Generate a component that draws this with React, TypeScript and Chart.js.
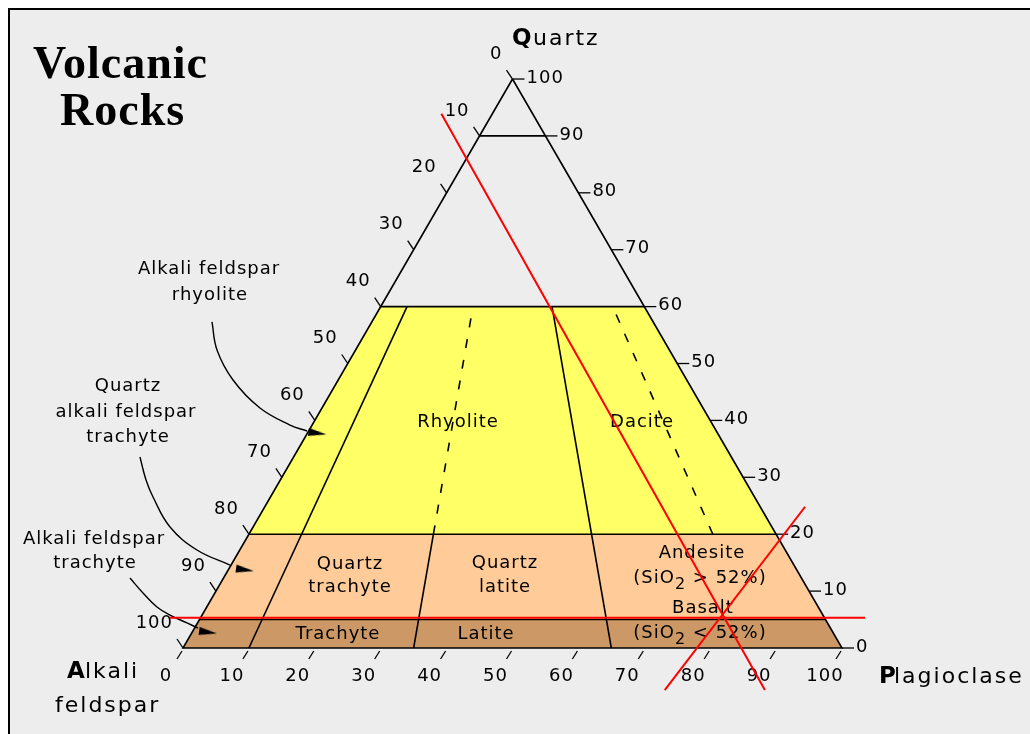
import React, { useEffect, useRef } from 'react';
import { Chart, registerables } from 'chart.js';

Chart.register(...registerables);

// ---------- data (ternary QAP values, in %) ----------
// Q bands of the field table (lower / upper Quartz %)
const bandLowQ = [20, 5, 0];
const bandHighQ = [60, 20, 5];
const bandColors = ['#FFFF66', '#FFCC99', '#CC9966'];
// horizontal boundaries (Quartz %)
const levelQ = [90, 60, 20, 5];
// radial boundaries: P/(A+P) %, from Q=0 up to given Q
const solidRatios = [10, 35, 65];
const solidTopQ = [60, 20, 60];
const dashedRatios = [35, 88];
const dashedLowQ = [20, 20];
const dashedHighQ = [60, 60];
// axis tick values
const tickValues = [0, 10, 20, 30, 40, 50, 60, 70, 80, 90, 100];
// red construction lines (cartesian diagram units)
const red1X = [39.2, 88.3];
const red1Y = [81.3, -6.4];
const red2X = [73.1, 94.4];
const red2Y = [-6.4, 21.5];
const red3X = [-2.0, 103.5];
const red3Y = [4.6, 4.6];
// annotation arrows (cartesian diagram units)
const arrow1X = [4.4, 5.16, 7.59, 11.68, 16.24, 18.82];
const arrow1Y = [49.62, 45.36, 40.79, 36.53, 33.94, 33.03];
const arrow2X = [-6.53, -5.61, -4.55, -1.97, 2.12, 7.13];
const arrow2Y = [29.07, 25.57, 22.98, 18.42, 14.92, 12.63];
const arrow3X = [-8.04, -6.07, -3.95, -1.97, 0.61, 2.28];
const arrow3Y = [10.65, 8.37, 6.24, 5.02, 3.81, 3.04];
const headX = [20.4, 9.4, 3.8];
const headY = [32.7, 11.9, 2.4];

// ---------- helpers ----------
const SQ = Math.sqrt(3) / 2;
// q = Quartz %, r = P/(A+P) %
const tern = (q: number, r: number) => ({ x: ((100 - q) * r) / 100 + q / 2, y: q * SQ });
const zip = (xs: number[], ys: number[]) => xs.map((x, i) => ({ x, y: ys[i] }));

const FONT = '"DejaVu Sans", sans-serif';

function makeArrowHead() {
  const c = document.createElement('canvas');
  c.width = 20;
  c.height = 10;
  const g = c.getContext('2d')!;
  g.fillStyle = '#000';
  g.beginPath();
  g.moveTo(1, 1);
  g.lineTo(19, 5);
  g.lineTo(1, 9);
  g.closePath();
  g.fill();
  return c;
}

function buildDatasets() {
  const ds: any[] = [];
  bandLowQ.forEach((lo, i) => {
    const hi = bandHighQ[i];
    ds.push({
      data: [tern(hi, 0), tern(hi, 100), tern(lo, 100), tern(lo, 0), tern(hi, 0)],
      fill: 'shape',
      backgroundColor: bandColors[i],
      borderWidth: 0,
      borderColor: 'rgba(0,0,0,0)',
      order: 10,
    });
  });
  levelQ.forEach((q) => {
    ds.push({ data: [tern(q, 0), tern(q, 100)], borderColor: '#000', borderWidth: 1.6, order: 6 });
  });
  solidRatios.forEach((r, i) => {
    ds.push({ data: [tern(0, r), tern(solidTopQ[i], r)], borderColor: '#000', borderWidth: 1.6, order: 6 });
  });
  dashedRatios.forEach((r, i) => {
    ds.push({
      data: [tern(dashedLowQ[i], r), tern(dashedHighQ[i], r)],
      borderColor: '#000',
      borderWidth: 1.6,
      borderDash: [9, 12],
      order: 6,
    });
  });
  ds.push({
    id: 'outline',
    data: [tern(100, 0), tern(0, 0), tern(0, 100), tern(100, 0)],
    borderColor: '#000',
    borderWidth: 1.6,
    order: 5,
  });
  [zip(arrow1X, arrow1Y), zip(arrow2X, arrow2Y), zip(arrow3X, arrow3Y)].forEach((d) => {
    ds.push({ data: d, borderColor: '#000', borderWidth: 1.4, tension: 0.4, order: 3 });
  });
  ds.push({
    data: zip(headX, headY),
    showLine: false,
    pointStyle: makeArrowHead(),
    pointRadius: 8,
    pointRotation: 8,
    order: 3,
  });
  [zip(red1X, red1Y), zip(red2X, red2Y), zip(red3X, red3Y)].forEach((d) => {
    ds.push({ data: d, borderColor: '#FF0000', borderWidth: 2, order: 1 });
  });
  return ds;
}

const backgroundPlugin = {
  id: 'bg',
  beforeDraw(chart: any) {
    const ctx = chart.ctx;
    ctx.save();
    ctx.fillStyle = '#FFFFFF';
    ctx.fillRect(0, 0, chart.width, chart.height);
    ctx.fillStyle = '#EDEDED';
    ctx.fillRect(10, 10, chart.width - 10, chart.height - 10);
    ctx.fillStyle = '#000';
    ctx.fillRect(8, 8, chart.width - 8, 2);
    ctx.fillRect(8, 8, 2, chart.height - 8);
    ctx.restore();
  },
};

function text(ctx: any, s: string, x: number, y: number, font: string, align = 'center', spacing = '1px', baseline = 'alphabetic') {
  ctx.font = font;
  ctx.letterSpacing = spacing;
  ctx.textAlign = align;
  ctx.textBaseline = baseline;
  ctx.fillText(s, x, y);
}

function rich(ctx: any, parts: [string, number][], cx: number, y: number) {
  const fonts = parts.map((p) => (p[1] ? `16px ${FONT}` : `18px ${FONT}`));
  ctx.letterSpacing = '1px';
  let total = 0;
  const widths = parts.map((p, i) => {
    ctx.font = fonts[i];
    const w = ctx.measureText(p[0]).width;
    total += w;
    return w;
  });
  let x = cx - total / 2;
  ctx.textAlign = 'left';
  ctx.textBaseline = 'alphabetic';
  parts.forEach((p, i) => {
    ctx.font = fonts[i];
    ctx.fillText(p[0], x, y + p[1]);
    x += widths[i];
  });
}

const annotationPlugin = {
  id: 'annot',
  afterDatasetDraw(chart: any, args: any) {
    if (chart.data.datasets[args.index].id !== 'outline') return;
    const ctx = chart.ctx;
    const sx = chart.scales.x;
    const sy = chart.scales.y;
    const P = (pt: { x: number; y: number }) => ({ x: sx.getPixelForValue(pt.x), y: sy.getPixelForValue(pt.y) });
    ctx.save();
    ctx.strokeStyle = '#000';
    ctx.fillStyle = '#000';
    ctx.lineWidth = 1.3;
    const numFont = `18px ${FONT}`;
    tickValues.forEach((v) => {
      // left edge: Alkali feldspar %
      const l = P(tern(100 - v, 0));
      ctx.beginPath();
      ctx.moveTo(l.x, l.y);
      ctx.lineTo(l.x - 6, l.y - 9);
      ctx.stroke();
      text(ctx, String(v), l.x - 10, l.y - 25, numFont, 'right', '1px', 'middle');
      // right edge: Quartz %
      const r = P(tern(v, 100));
      ctx.beginPath();
      ctx.moveTo(r.x, r.y);
      ctx.lineTo(r.x + 12, r.y);
      ctx.stroke();
      text(ctx, String(v), r.x + 14, r.y - 1, numFont, 'left', '1px', 'middle');
      // bottom: Plagioclase %
      const b = P(tern(0, v));
      ctx.beginPath();
      ctx.moveTo(b.x - 1, b.y + 3);
      ctx.lineTo(b.x - 6, b.y + 11);
      ctx.stroke();
      text(ctx, String(v), b.x - 17, b.y + 28, numFont, 'center', '1px', 'middle');
    });

    const f18 = `18px ${FONT}`;
    // field names
    text(ctx, 'Rhyolite', 458, 427, f18);
    text(ctx, 'Dacite', 642, 427, f18);
    text(ctx, 'Quartz', 350, 569, f18);
    text(ctx, 'trachyte', 350, 592, f18);
    text(ctx, 'Quartz', 505, 568, f18);
    text(ctx, 'latite', 505, 592, f18);
    text(ctx, 'Andesite', 702, 558, f18);
    rich(ctx, [['(SiO', 0], ['2', 6], [' > 52%)', 0]], 700, 583);
    text(ctx, 'Basalt', 703, 613, f18);
    rich(ctx, [['(SiO', 0], ['2', 6], [' < 52%)', 0]], 700, 638);
    text(ctx, 'Trachyte', 338, 639, f18);
    text(ctx, 'Latite', 486, 639, f18);
    // side annotations
    text(ctx, 'Alkali feldspar', 209, 274, f18);
    text(ctx, 'rhyolite', 210, 300, f18);
    text(ctx, 'Quartz', 128, 391, f18);
    text(ctx, 'alkali feldspar', 126, 417, f18);
    text(ctx, 'trachyte', 128, 442, f18);
    text(ctx, 'Alkali feldspar', 94, 544, f18);
    text(ctx, 'trachyte', 95, 568, f18);

    // vertex titles
    const big = `bold 23px ${FONT}`;
    const ax = `22px ${FONT}`;
    text(ctx, 'Q', 512, 45, big, 'left', '0px');
    text(ctx, 'uartz', 533, 45, ax, 'left', '2px');
    text(ctx, 'A', 67, 678, big, 'left', '0px');
    text(ctx, 'lkali', 85, 678, ax, 'left', '2px');
    text(ctx, 'feldspar', 55, 712, ax, 'left', '2px');
    text(ctx, 'P', 879, 683, big, 'left', '0px');
    text(ctx, 'lagioclase', 894, 683, ax, 'left', '2px');

    // title
    const tf = 'bold 46px "Liberation Serif", "DejaVu Serif", serif';
    text(ctx, 'Volcanic', 33, 78, tf, 'left', '1px');
    text(ctx, 'Rocks', 60, 125, tf, 'left', '1px');
    ctx.restore();
  },
};

export default function App() {
  const ref = useRef<HTMLCanvasElement>(null);
  useEffect(() => {
    const canvas = ref.current!;
    const chart = new Chart(canvas, {
      type: 'line',
      data: { datasets: buildDatasets() },
      options: {
        animation: false,
        responsive: false,
        maintainAspectRatio: false,
        devicePixelRatio: 1,
        layout: { padding: 0, autoPadding: false },
        elements: { point: { radius: 0, hoverRadius: 0 }, line: { tension: 0 } },
        scales: {
          x: { type: 'linear', min: -27.77, max: 128.53, display: false },
          y: { type: 'linear', min: -13.09, max: 98.63, display: false },
        },
        plugins: { legend: { display: false }, tooltip: { enabled: false } },
        events: [],
      },
      plugins: [backgroundPlugin, annotationPlugin],
    } as any);
    return () => chart.destroy();
  }, []);
  return (
    <canvas
      ref={ref}
      width={1030}
      height={734}
      style={{ position: 'fixed', left: 0, top: 0, width: 1030, height: 734, display: 'block' }}
    />
  );
}
